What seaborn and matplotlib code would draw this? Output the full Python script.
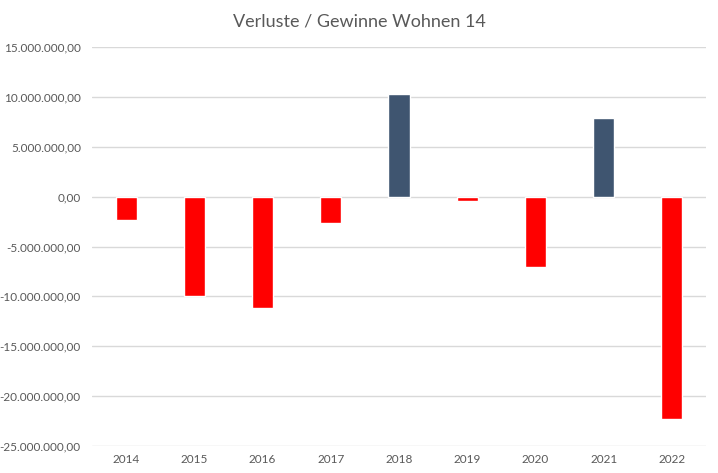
import matplotlib
matplotlib.use("Agg")
import matplotlib.pyplot as plt
import seaborn as sns
import pandas as pd
from matplotlib.ticker import FuncFormatter, MultipleLocator

years = ["2014", "2015", "2016", "2017", "2018", "2019", "2020", "2021", "2022"]
values = [-2300000, -9950000, -11150000, -2600000, 10300000, -400000, -7100000, 7900000, -22300000]
title = "Verluste / Gewinne Wohnen 14"

df = pd.DataFrame({"Jahr": years, "Wert": values})
df["Typ"] = ["Gewinn" if v >= 0 else "Verlust" for v in values]

sns.set_theme(style="white")
plt.rcParams["font.family"] = ["Lato", "DejaVu Sans"]

fig = plt.figure(figsize=(7.18, 4.73), dpi=100)
ax = fig.add_axes([92/718, 1 - 446/473, (706-92)/718, (446-47)/473])

sns.barplot(data=df, x="Jahr", y="Wert", hue="Typ",
            palette={"Gewinn": "#3F5570", "Verlust": "#FF0000"},
            saturation=1, dodge=False, width=0.31, legend=False, ax=ax, zorder=3)

ax.set_ylim(-25000000, 15000000)
ax.yaxis.set_major_locator(MultipleLocator(5000000))

def de_fmt(v, pos):
    s = f"{v:,.2f}"
    return s.replace(",", "X").replace(".", ",").replace("X", ".")

ax.yaxis.set_major_formatter(FuncFormatter(de_fmt))
ax.grid(axis="y", color="#D9D9D9", linewidth=1, zorder=0)
ax.set_axisbelow(True)
for sp in ax.spines.values():
    sp.set_visible(False)
ax.tick_params(axis="both", length=0, labelsize=8.5, labelcolor="#595959")
ax.tick_params(axis="y", pad=8)
ax.tick_params(axis="x", pad=6)
ax.set_xlabel("")
ax.set_ylabel("")
ax.set_xlim(-0.5, len(years) - 0.5)

fig.text(0.5, 0.955, title, ha="center", va="center", fontsize=13, color="#595959")

fig.savefig("out.png", dpi=100)
